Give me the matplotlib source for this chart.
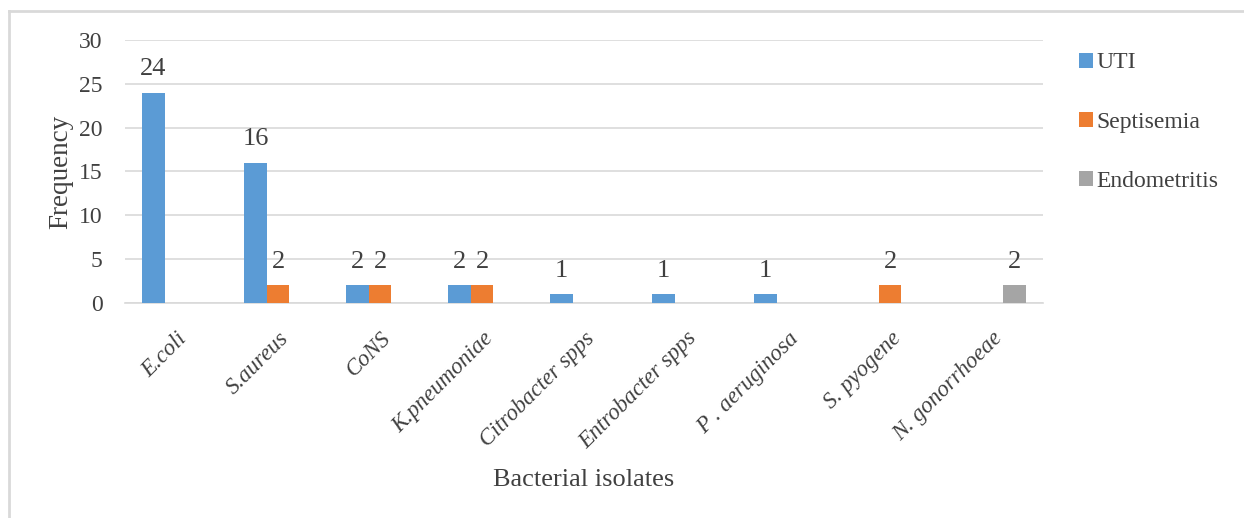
import numpy as np
import matplotlib
matplotlib.use("Agg")
import matplotlib.pyplot as plt
from matplotlib.patches import Patch
from matplotlib.lines import Line2D

# data
isolates = ["E.coli", "S.aureus", "CoNS", "K.pneumoniae", "Citrobacter spps",
            "Entrobacter spps", "P . aeruginosa", "S. pyogene", "N. gonorrhoeae"]
uti = [24, 16, 2, 2, 1, 1, 1, 0, 0]
septisemia = [0, 2, 2, 2, 0, 0, 0, 2, 0]
endometritis = [0, 0, 0, 0, 0, 0, 0, 0, 2]
series_names = ["UTI", "Septisemia", "Endometritis"]
colors = ["#5B9BD5", "#ED7D31", "#A5A5A5"]

TEXT = "#404040"
GRID = "#D9D9D9"
plt.rcParams["font.family"] = ["Liberation Serif", "DejaVu Serif"]

fig = plt.figure(figsize=(12.44, 5.18), dpi=100)
ax = fig.add_axes([0.1005, 0.415, 0.738, 0.508])

x = np.arange(len(isolates))
w = 0.222
for i, (vals, name, col) in enumerate(zip([uti, septisemia, endometritis], series_names, colors)):
    pos = x + (i - 1) * w
    ax.bar(pos, vals, width=w, color=col, label=name, zorder=3)
    for p, v in zip(pos, vals):
        if v > 0:
            ax.annotate(str(v), (p, v), xytext=(0, 9), textcoords="offset points",
                        ha="center", va="bottom", fontsize=19, color=TEXT)

ax.set_xlim(-0.5, len(isolates) - 0.5)
ax.set_ylim(0, 30)
ax.set_yticks(range(0, 31, 5))
ax.yaxis.grid(True, color=GRID, linewidth=1.2, zorder=0)
ax.set_axisbelow(True)
for s in ["top", "right", "left"]:
    ax.spines[s].set_visible(False)
ax.spines["bottom"].set_color(GRID)
ax.spines["bottom"].set_linewidth(1.2)
ax.tick_params(axis="both", length=0, colors=TEXT)
ax.tick_params(axis="y", labelsize=17, pad=16)

ax.set_xticks(x)
ax.set_xticklabels(isolates, rotation=45, ha="right", rotation_mode="anchor",
                   fontsize=16.5, style="italic", color=TEXT)
ax.tick_params(axis="x", pad=18)

ax.set_ylabel("Frequency", fontsize=19.5, color=TEXT, labelpad=4)
ax.set_xlabel("Bacterial isolates", fontsize=19, color=TEXT, labelpad=11)

handles = [Patch(facecolor=c, edgecolor="none") for c in colors]
fig.legend(handles, series_names, loc="upper left", bbox_to_anchor=(0.85, 0.94),
           frameon=False, fontsize=17, handlelength=0.6, handleheight=0.6,
           handletextpad=0.15, labelspacing=1.62, labelcolor=TEXT)

# outer chart border (only top and left edges visible in the crop)
fig.add_artist(Line2D([9 / 1244, 9 / 1244], [0, 1 - 11 / 518], transform=fig.transFigure,
                      color=GRID, linewidth=2))
fig.add_artist(Line2D([9 / 1244, 1], [1 - 11 / 518, 1 - 11 / 518], transform=fig.transFigure,
                      color=GRID, linewidth=2))

fig.savefig("out.png", dpi=100)
